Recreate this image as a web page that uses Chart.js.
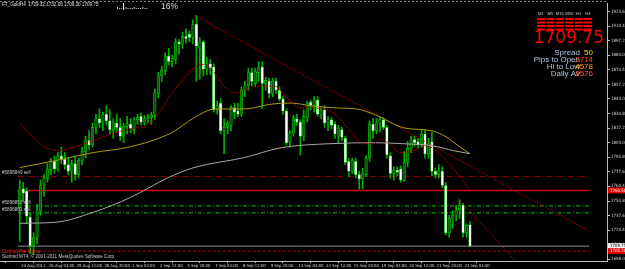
<!DOCTYPE html>
<html>
<head>
<meta charset="utf-8">
<script src="https://cdn.jsdelivr.net/npm/chart.js@4.4.0/dist/chart.umd.min.js"></script>
<style>
  html, body { margin: 0; padding: 0; background: #000; }
  canvas { display: block; }
</style>
</head>
<body>
<canvas id="gold" width="625" height="269"></canvas>
<script>
// FT_Gold H4 (bar 0 = left edge)
const opens = [
  1745,1762,1760,1736,1710,1718,1742,1765,1772,1780,
  1787,1780,1792,1789,1784,1778,1785,1775,1788,1796,
  1806,1802,1818,1826,1822,1830,1824,1816,1822,1818,
  1810,1819,1821,1816,1825,1828,1823,1826,1827,1829,
  1849,1865,1870,1883,1878,1880,1896,1894,1901,1903,
  1900,1912,1890,1896,1871,1876,1873,1834,1840,1815,
  1818,1820,1836,1833,1830,1852,1856,1868,1858,1868,
  1873,1858,1860,1849,1860,1852,1844,1833,1805,1813,
  1826,1823,1810,1827,1841,1838,1843,1830,1834,1822,
  1825,1821,1810,1816,1808,1787,1778,1787,1775,1771,
  1775,1790,1821,1815,1822,1825,1818,1792,1776,1779,
  1780,1770,1786,1799,1807,1805,1802,1812,1794,1805,
  1778,1775,1778,1765,1722,1735,1738,1742,1747,1722,
  1729.32
];
const highs = [
  1770,1768,1763,1740,1722,1748,1770,1775,1785,1790,
  1792,1795,1800,1795,1790,1788,1792,1790,1800,1810,
  1815,1822,1830,1835,1832,1838,1834,1826,1830,1826,
  1822,1828,1826,1827,1830,1831,1829,1830,1832,1853,
  1868,1874,1886,1890,1884,1899,1898,1905,1908,1906,
  1916,1920,1900,1897,1882,1880,1876,1842,1844,1826,
  1824,1838,1840,1840,1855,1860,1872,1872,1872,1878,
  1878,1864,1863,1863,1863,1855,1846,1835,1815,1829,
  1830,1825,1834,1842,1843,1846,1846,1836,1838,1828,
  1827,1823,1820,1818,1810,1790,1790,1790,1778,1781,
  1792,1824,1826,1826,1828,1827,1820,1795,1782,1782,
  1783,1796,1805,1810,1810,1808,1815,1816,1808,1814,
  1781,1784,1782,1768,1738,1742,1747,1752,1749,1730,
  1732.06
];
const lows = [
  1714,1750,1730,1703,1702,1712,1738,1755,1768,1775,
  1776,1778,1785,1780,1775,1768,1770,1772,1784,1790,
  1798,1800,1812,1818,1815,1820,1812,1808,1814,1806,
  1804,1812,1813,1812,1821,1820,1820,1822,1821,1825,
  1845,1860,1866,1875,1873,1876,1885,1890,1895,1896,
  1894,1860,1862,1865,1866,1866,1832,1830,1812,1794,
  1812,1815,1826,1828,1828,1846,1852,1856,1855,1860,
  1835,1852,1845,1846,1849,1842,1830,1802,1800,1810,
  1820,1793,1806,1823,1834,1832,1828,1826,1818,1815,
  1817,1808,1803,1806,1784,1773,1776,1772,1762,1762,
  1773,1787,1808,1812,1814,1816,1790,1772,1770,1774,
  1768,1769,1782,1795,1801,1799,1800,1790,1790,1774,
  1772,1772,1763,1720,1718,1726,1733,1735,1718,1718,
  1709.30
];
const closes = [
  1762,1758,1737,1710,1718,1742,1765,1772,1780,1787,
  1780,1792,1789,1784,1778,1785,1775,1788,1796,1806,
  1802,1818,1826,1822,1830,1824,1816,1822,1818,1810,
  1819,1821,1817,1825,1827,1823,1826,1827,1829,1850,
  1865,1870,1883,1878,1881,1896,1894,1901,1899,1900,
  1912,1892,1896,1871,1876,1872,1834,1838,1815,1818,
  1822,1836,1832,1830,1852,1856,1868,1860,1869,1873,
  1858,1861,1849,1860,1852,1844,1833,1804,1813,1826,
  1823,1810,1828,1840,1838,1843,1830,1834,1822,1825,
  1820,1812,1817,1809,1786,1778,1788,1775,1771,1776,
  1790,1821,1815,1822,1825,1818,1793,1776,1779,1777,
  1770,1786,1799,1806,1804,1802,1812,1794,1803,1778,
  1775,1779,1765,1722,1735,1738,1742,1747,1722,1729,
  1709.75
];

// moving averages (bar index, price)
const fastMaBars = [0,3.5,7.6,11.7,15.8,21.2,26.6,32,37.5,43.8,50.3,52.4,54.6,58.4,62,68.2,73.6,77.4,81,84.5,91,94.6,99.2,101.9,104.6,106.3,110.1,113.6,117.1,119,122.6,126.4,130];
const fastMaVals = [1822.1,1810.4,1799.5,1796.8,1800.4,1805.8,1812.2,1816.7,1821.2,1848.4,1872.0,1875.6,1873.8,1857.5,1849.3,1855.6,1855.6,1843.9,1835.7,1835.7,1830.3,1817.6,1803.1,1803.1,1807.6,1804.0,1795.0,1796.8,1801.3,1799.5,1789.5,1775.9,1760.5];
const midMaBars = [0,10.3,21.2,32,43.8,50.3,56.5,64.7,72.8,78.3,84.5,91.8,97.3,102.7,110.9,119,123.1,126.6,130];
const midMaVals = [1781.4,1787.7,1795.0,1800.4,1813.1,1826.7,1834.8,1834.8,1839.3,1840.2,1837.5,1835.7,1834.8,1829.4,1817.6,1814.9,1809.4,1801.3,1794.0];
const slowMaBars = [0,10.3,21.2,32,42.9,50.3,64.7,75.5,89.1,102.7,110.9,119,125.3,130];
const slowMaVals = [1730.6,1731.5,1740.6,1754.2,1772.3,1781.4,1790.4,1799.5,1803.1,1804.0,1803.1,1801.3,1796.8,1794.0];

// trend lines: [bar, price] end points
const trendLong = [[50.5, 1920], [164.4, 1723.5]];
const trendSteep = [[126.6, 1753.3], [143.2, 1696.2]];

// horizontal levels
const orderPrices = [1773.2, 1746.5, 1740.1];
const orderTags = ["#5896849 sell", "#5896853 sell", "#5896861 sell"];
const resistPrice = 1760.5;
const bidPrice = 1709.75;
const pivotPrice = 1705.2;

// axes
const xTickBars = [0,8,16,24,32,40,48,56,64,72,80,88,96,104,112,120,128];
const xTickLabels = ["24 Aug 2011","26 Aug 04:00","29 Aug 12:00","30 Aug 20:00","1 Sep 04:00","2 Sep 12:00","5 Sep 20:00","7 Sep 04:00","8 Sep 12:00","9 Sep 20:00","13 Sep 04:00","14 Sep 12:00","15 Sep 20:00","19 Sep 04:00","20 Sep 12:00","21 Sep 20:00","23 Sep 04:00"];
const yTickVals = [1923.60,1910.40,1897.20,1884.00,1870.40,1857.20,1844.00,1830.80,1817.20,1804.00,1790.80,1777.60,1764.40,1750.80,1737.60,1724.40,1711.20,1698.00];

// info panel
const tfNames = ["M1","M5","M15","M30","H1","H4"];
const infoNames = ["Spread","Pips to Open","Hi to Low","Daily Av"];
const infoValues = ["50","2714","4578","5576"];

const X_MIN = -0.55, X_MAX = 164.4;
const narrow = '"Liberation Sans Narrow", "DejaVu Sans Condensed", "Liberation Sans", sans-serif';
const tiny = '4.6px "Liberation Sans"';

function pairs(xs, ys) {
  return xs.map((x, i) => ({ x: x, y: ys[i] }));
}
function level(p) {
  return [{ x: X_MIN, y: p }, { x: X_MAX, y: p }];
}
function lineSet(data, color, dash, order, width) {
  return {
    type: "line", data: data, borderColor: color, borderWidth: width || 1,
    borderDash: dash, pointRadius: 0, fill: false, order: order,
    cubicInterpolationMode: "monotone"
  };
}

const overlay = {
  id: "overlay",
  beforeDraw(chart) {
    const c = chart.ctx;
    c.save();
    c.fillStyle = "#000";
    c.fillRect(0, 0, chart.width, chart.height);
    c.restore();
  },
  afterDraw(chart) {
    const c = chart.ctx;
    const ys = chart.scales.y;
    c.save();
    c.textBaseline = "middle";

    // top border
    c.strokeStyle = "#808080";
    c.setLineDash([2, 2]);
    c.beginPath(); c.moveTo(0, 1.5); c.lineTo(607, 1.5); c.stroke();
    c.setLineDash([]);

    // header
    c.font = tiny;
    c.fillStyle = "#e0e0e0";
    c.textAlign = "left";
    c.fillText("FT_GoldH4  " + opens[130].toFixed(2) + " " + highs[130].toFixed(2) + " " + lows[130].toFixed(2) + " " + closes[130].toFixed(2), 2, 5);

    // little meter + percent
    c.fillStyle = "#c8c8c8";
    for (let k = 0; k < 15; k++) {
      const h = k % 4 === 0 ? 2 : 1;
      c.fillRect(117 + k * 2.1, 9 - h, 1, h);
    }
    c.fillStyle = "#ffffff";
    c.fillRect(123, 3, 1, 7);
    c.font = '8.5px "Liberation Sans"';
    c.fillStyle = "#d8d8d8";
    c.fillText("16%", 161, 6.5);

    // order labels
    c.font = tiny;
    c.fillStyle = "#c8c8c8";
    orderPrices.forEach((p, i) => {
      c.fillText(orderTags[i], 2, ys.getPixelForValue(p) - 3.5);
    });
    c.fillStyle = "#ff2020";
    c.fillText("Sunbird Pre Points", 2, 251.5);
    c.fillStyle = "#c8c8c8";
    c.fillText("Sunbird MT4, \u00a9 2001-2011 MetaQuotes Software Corp.", 2, 256.5);

    // timeframe grid
    c.textAlign = "center";
    c.font = '4.2px "Liberation Sans"';
    c.fillStyle = "#c8c8c8";
    tfNames.forEach((t, k) => {
      const x0 = 537 + k * 9.4;
      c.fillText(t, x0 + 4, 14);
      c.fillStyle = "#ff0000";
      for (let r = 0; r < 4; r++) c.fillRect(x0, 18 + r * 3.5, 8, 2);
      c.fillStyle = "#c8c8c8";
    });

    // big price
    c.textAlign = "right";
    c.textBaseline = "alphabetic";
    c.font = '17px "DejaVu Sans"';
    c.fillStyle = "#ff0000";
    c.fillText(closes[130].toFixed(2), 604, 43);

    c.font = '8px "Liberation Sans"';
    const valColors = ["#ffd700", "#ff4500", "#ffa500", "#ff6347"];
    infoNames.forEach((n, k) => {
      const y = 55 + k * 7;
      c.fillStyle = "#b0c4de";
      c.fillText(n, 580, y);
      c.fillStyle = valColors[k];
      c.fillText(infoValues[k], 593, y);
    });

    // price tags on the axis
    c.textAlign = "left";
    c.textBaseline = "middle";
    c.font = '4.4px ' + narrow;
    const tag = (p, bg, fg) => {
      const y = ys.getPixelForValue(p);
      c.fillStyle = bg;
      c.fillRect(608, y - 3, 17, 6);
      c.fillStyle = fg;
      c.fillText(p.toFixed(2), 610, y);
    };
    tag(resistPrice, "#e00000", "#ffffff");
    tag(bidPrice, "#f0f0f0", "#000000");
    tag(pivotPrice, "#e00000", "#ffffff");
    c.restore();
  }
};

const bull = "#0b5a0b", bear = "#ffffff";

new Chart(document.getElementById("gold"), {
  type: "bar",
  data: {
    datasets: [
      lineSet(pairs(fastMaBars, fastMaVals), "#b80000", [2, 1], 0),
      lineSet(pairs(midMaBars, midMaVals), "#b09a10", [], 0),
      lineSet(pairs(slowMaBars, slowMaVals), "#a8a8a8", [], 0),
      lineSet(trendLong.map(p => ({ x: p[0], y: p[1] })), "#c80000", [1.5, 1.5], 0),
      lineSet(trendSteep.map(p => ({ x: p[0], y: p[1] })), "#c80000", [1.5, 1.5], 0),
      {
        type: "bar",
        data: opens.map((o, i) => ({ x: i, y: [o, closes[i]] })),
        backgroundColor: opens.map((o, i) => closes[i] >= o ? bull : bear),
        borderColor: "#00d000",
        borderWidth: 0.6,
        borderSkipped: false,
        barThickness: 2.6,
        minBarLength: 1,
        grouped: false,
        order: 1
      },
      {
        type: "bar",
        data: highs.map((h, i) => ({ x: i, y: [lows[i], h] })),
        backgroundColor: "#00b000",
        barThickness: 1,
        grouped: false,
        order: 2
      },
      lineSet(level(orderPrices[0]), "#900000", [6, 2, 1, 2], 3),
      lineSet(level(resistPrice), "#d00000", [], 3, 1.5),
      lineSet(level(orderPrices[1]), "#10a010", [4, 2, 1, 2], 3, 1.3),
      lineSet(level(orderPrices[2]), "#10a010", [4, 2, 1, 2], 3, 1.3),
      lineSet(level(bidPrice), "#909090", [], 3),
      lineSet(level(pivotPrice), "#c00000", [3, 2], 3)
    ]
  },
  options: {
    responsive: false,
    devicePixelRatio: 1,
    animation: false,
    layout: { padding: { top: 2, left: 0, right: 0, bottom: 0 } },
    plugins: { legend: { display: false }, tooltip: { enabled: false } },
    scales: {
      x: {
        type: "linear", min: X_MIN, max: X_MAX, position: "bottom",
        grid: { drawOnChartArea: false, tickLength: 2, color: "#c0c0c0" },
        border: { color: "#c0c0c0" },
        ticks: {
          color: "#d8d8d8", font: { size: 4.2, family: narrow },
          align: "start", labelOffset: 1.5, maxRotation: 0, autoSkip: false, padding: 0,
          callback: v => xTickLabels[xTickBars.indexOf(v)] || ""
        },
        afterBuildTicks: s => { s.ticks = xTickBars.map(v => ({ value: v })); },
        afterFit: s => { s.height = 8; }
      },
      y: {
        type: "linear", position: "right", min: 1696.2, max: 1930.85,
        grid: { drawOnChartArea: false, tickLength: 3, color: "#c0c0c0" },
        border: { color: "#c0c0c0" },
        ticks: {
          color: "#d8d8d8", font: { size: 4.4, family: narrow },
          padding: 1, autoSkip: false,
          callback: v => v.toFixed(2)
        },
        afterBuildTicks: s => { s.ticks = yTickVals.map(v => ({ value: v })); },
        afterFit: s => { s.width = 18; }
      }
    }
  },
  plugins: [overlay]
});
</script>
</body>
</html>
